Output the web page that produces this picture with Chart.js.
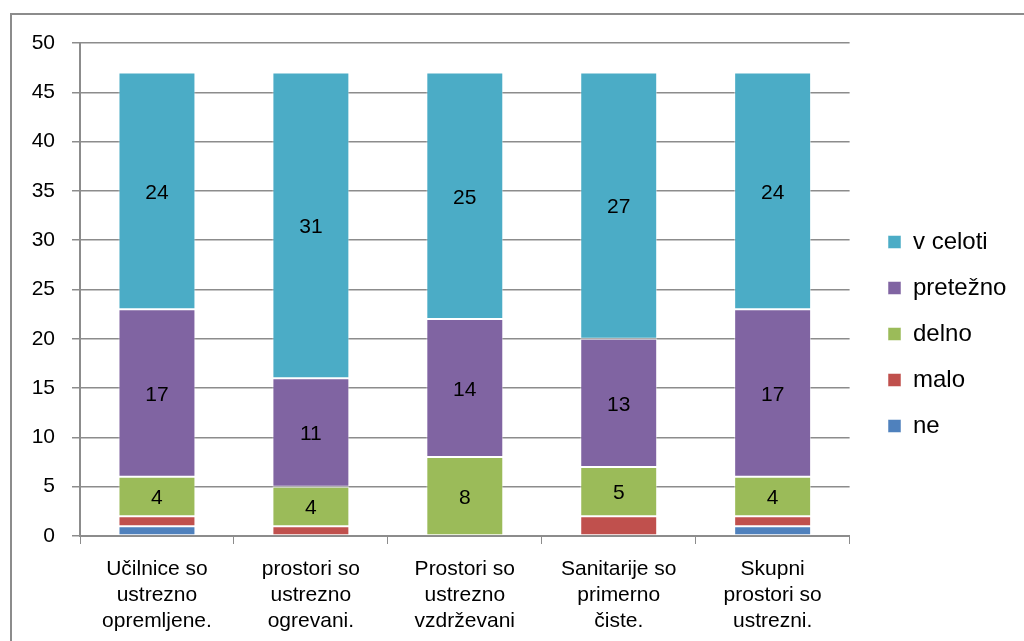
<!DOCTYPE html>
<html>
<head>
<meta charset="utf-8">
<script src="https://cdn.jsdelivr.net/npm/chart.js@4.4.1/dist/chart.umd.min.js"></script>
<style>
  html, body { margin: 0; padding: 0; background: #fff; }
  #wrap { position: relative; width: 1024px; height: 641px; }
  #frame { position: absolute; left: 10px; top: 13px; width: 1020px; height: 640px; border: 2px solid #8c8c8c; box-sizing: border-box; }
  canvas { position: absolute; left: 0; top: 0; }
</style>
</head>
<body>
<div id="wrap">
  <div id="frame"></div>
  <canvas id="chart" width="1024" height="641"></canvas>
</div>
<script>
// categories and series values
const categories = [
    ['Učilnice so', 'ustrezno', 'opremljene.'],
    ['prostori so', 'ustrezno', 'ogrevani.'],
    ['Prostori so', 'ustrezno', 'vzdrževani'],
    ['Sanitarije so', 'primerno', 'čiste.'],
    ['Skupni', 'prostori so', 'ustrezni.']
];
const seriesNames = ['ne', 'malo', 'delno', 'pretežno', 'v celoti'];
const ne = [1, 0, 0, 0, 1];
const malo = [1, 1, 0, 2, 1];
const delno = [4, 4, 8, 5, 4];
const pretezno = [17, 11, 14, 13, 17];
const vCeloti = [24, 31, 25, 27, 24];
const colors = ['#4F81BD', '#C0504D', '#9BBB59', '#8064A2', '#4BACC6'];

const font = "'Liberation Sans', Arial, sans-serif";

// draw the value inside each segment (only the bigger ones, like the original)
const valueLabels = {
    id: 'valueLabels',
    afterDatasetsDraw(chart) {
        const ctx = chart.ctx;
        ctx.save();
        ctx.font = '21px ' + font;
        ctx.fillStyle = '#000';
        ctx.textAlign = 'center';
        ctx.textBaseline = 'middle';
        chart.data.datasets.forEach((ds, i) => {
            chart.getDatasetMeta(i).data.forEach((bar, j) => {
                const v = ds.data[j];
                if (v < 4) return;
                ctx.fillText(String(v), bar.x, (bar.y + bar.base) / 2 + 2);
            });
        });
        ctx.restore();
    }
};

// move the legend block to where the original has it
const legendNudge = {
    id: 'legendNudge',
    afterLayout(chart) {
        const lg = chart.legend;
        const dx = 866 - lg.left;
        const dy = -8;
        lg.left += dx; lg.right += dx;
        lg.top += dy; lg.bottom += dy;
    }
};

const allSeries = [ne, malo, delno, pretezno, vCeloti];

new Chart(document.getElementById('chart'), {
    type: 'bar',
    data: {
        labels: categories,
        datasets: allSeries.map((d, i) => ({
            label: seriesNames[i],
            data: d,
            backgroundColor: colors[i],
            borderColor: 'rgba(255,255,255,0.5)',
            borderWidth: 1,
            borderSkipped: false,
            barPercentage: 0.5,
            categoryPercentage: 1
        }))
    },
    options: {
        responsive: false,
        animation: false,
        layout: { padding: { top: 43, left: 0, right: 24, bottom: 0 } },
        plugins: {
            tooltip: { enabled: false },
            legend: {
                position: 'right',
                reverse: true,
                labels: {
                    font: { size: 24, family: font },
                    color: '#000',
                    boxWidth: 13,
                    boxHeight: 13,
                    padding: 22
                }
            }
        },
        scales: {
            x: {
                stacked: true,
                grid: { display: true, drawOnChartArea: false, drawTicks: true, tickLength: 8, color: '#8c8c8c', offset: true },
                border: { color: '#8c8c8c', width: 2 },
                ticks: { font: { size: 21, family: font, lineHeight: 1.24 }, color: '#000', maxRotation: 0, padding: 12 },
                afterFit(scale) { scale.height = 105; }
            },
            y: {
                stacked: true,
                min: 0,
                max: 50,
                ticks: { stepSize: 5, font: { size: 21, family: font }, color: '#000', padding: 17 },
                grid: { color: '#8c8c8c', lineWidth: 1.5, tickLength: 8 },
                border: { color: '#8c8c8c', width: 2 },
                afterFit(scale) { scale.width = 80; }
            }
        }
    },
    plugins: [valueLabels, legendNudge]
});
</script>
</body>
</html>
